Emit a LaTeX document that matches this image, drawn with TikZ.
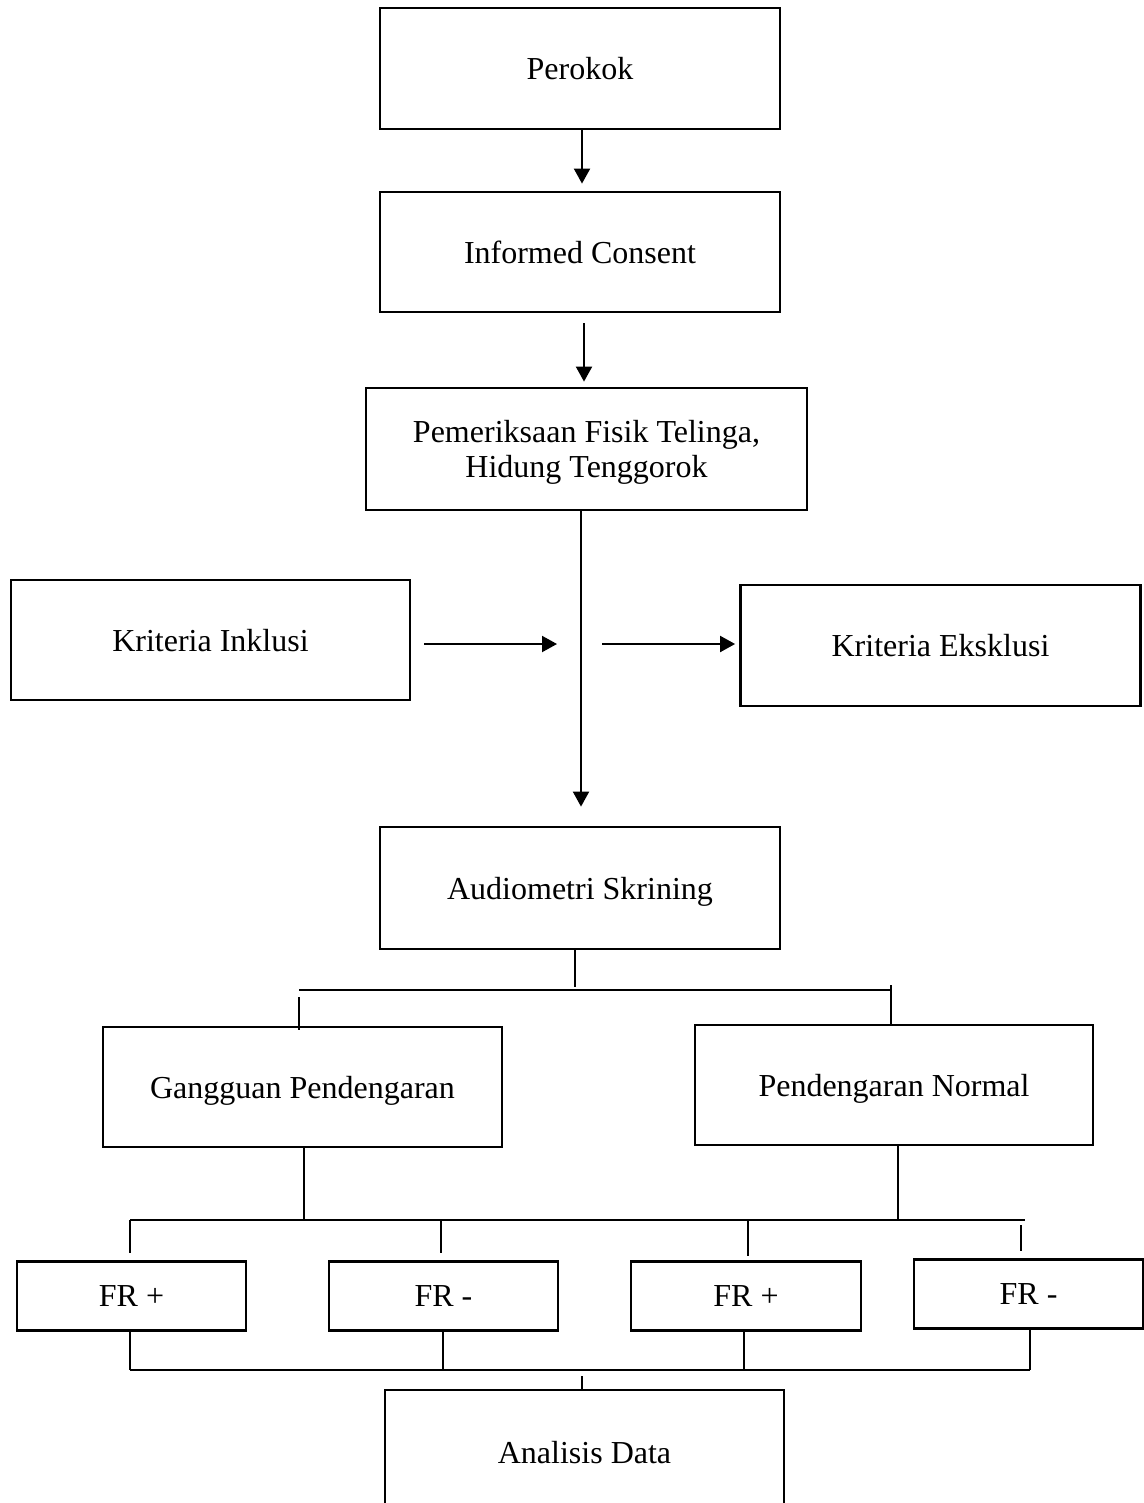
\documentclass[tikz,border=0pt]{standalone}
\usepackage{fontspec}
\setmainfont{Liberation Serif}
\usetikzlibrary{arrows.meta,calc}
\begin{document}
\begin{tikzpicture}[x=0.5pt,y=-0.5pt,
  box/.style={draw,line width=1.4pt,inner sep=0pt,align=center,text depth=0pt,
    font=\fontsize{16}{17.5}\selectfont},
  arr/.style={line width=1pt,-{Triangle[length=7.5pt,width=8pt]}},
  ln/.style={line width=0.6pt}]
\useasboundingbox (0,0) rectangle (1144,1503);
% boxes
\node[box,minimum width=200pt,minimum height=60.5pt] (perokok) at (580,68.5) {Perokok};
\node[box,minimum width=200pt,minimum height=60pt] (consent) at (580,252) {Informed Consent};
\node[box,minimum width=220.5pt,minimum height=61pt,text depth=-4pt] (pem) at (586.5,449) {Pemeriksaan Fisik Telinga,\\Hidung Tenggorok};
\node[box,minimum width=199.5pt,minimum height=60pt] (inkl) at (210.5,640) {Kriteria Inklusi};
\node[box,minimum width=200pt,minimum height=60.5pt] (eksk) at (940.5,645.5) {Kriteria Eksklusi};
\node[box,minimum width=200pt,minimum height=61pt] (audio) at (580,888) {Audiometri Skrining};
\node[box,minimum width=199.5pt,minimum height=60pt] (gang) at (302.5,1087) {Gangguan Pendengaran};
\node[box,minimum width=199pt,minimum height=60pt] (norm) at (894,1085) {Pendengaran Normal};
\node[box,minimum width=114.5pt,minimum height=34.5pt] (fra) at (131.5,1296) {FR +};
\node[box,minimum width=114.5pt,minimum height=34.5pt] (frb) at (443.5,1296) {FR -};
\node[box,minimum width=115pt,minimum height=34.5pt] (frc) at (746,1296) {FR +};
\node[box,minimum width=114.5pt,minimum height=34.5pt] (frd) at (1028.5,1294) {FR -};
\node[box,minimum width=199.5pt,minimum height=62pt] (anal) at (584.5,1452) {Analisis Data};
% coordinates
\coordinate (jl) at (557,644);
\coordinate (jr) at (602,644);
\coordinate (ta) at (575,990);
\coordinate (hal) at (299,990);
\coordinate (har) at (891,990);
\coordinate (tg) at (304,1220);
\coordinate (tn) at (898,1220);
\coordinate (hbl) at (130,1220);
\coordinate (hbr) at (1025,1220);
\coordinate (bl) at (130,1370);
\coordinate (br) at (1030,1370);
\coordinate (ba) at (582,1376);
% arrows
\draw[arr,shorten >=3.5pt] (perokok.south -| 582,0) -- (consent.north -| 582,0);
\draw[arr,shorten <=5pt,shorten >=2.5pt] (consent.south -| 584,0) -- (pem.north -| 584,0);
\draw[arr,shorten >=9.5pt] (pem.south -| 581,0) -- (audio.north -| 581,0);
\draw[arr,shorten <=6.5pt] (inkl.east |- jl) -- (jl);
\draw[arr,shorten >=2pt] (jr) -- (eksk.west |- jr);
% tree lines
\draw[ln] (audio.south -| ta) -- ([yshift=1.5pt]ta);
\draw[ln] (hal) -- (har);
\draw[ln] ([yshift=-3.5pt]hal) -- ([yshift=-2pt]gang.north -| hal);
\draw[ln] ([yshift=2.5pt]har) -- (norm.north -| har);
\draw[ln] (gang.south -| tg) -- (tg);
\draw[ln] (norm.south -| tn) -- (tn);
\draw[ln] (hbl) -- (hbr);
\draw[ln] (hbl) -- ([yshift=3.5pt]fra.north -| hbl);
\draw[ln] (hbl -| 441,0) -- ([yshift=3.5pt]frb.north -| 441,0);
\draw[ln] (hbl -| 748,0) -- ([yshift=2pt]frc.north -| 748,0);
\draw[ln] ([yshift=-2.5pt]hbr -| 1021,0) -- ([yshift=3.5pt]frd.north -| 1021,0);
\draw[ln] (fra.south -| bl) -- (bl);
\draw[ln] (frb.south -| 443,0) -- (bl -| 443,0);
\draw[ln] (frc.south -| 744,0) -- (bl -| 744,0);
\draw[ln] (frd.south -| br) -- (br);
\draw[ln] (bl) -- (br);
\draw[line width=1pt] (ba) -- (anal.north -| ba);
\end{tikzpicture}
\end{document}
